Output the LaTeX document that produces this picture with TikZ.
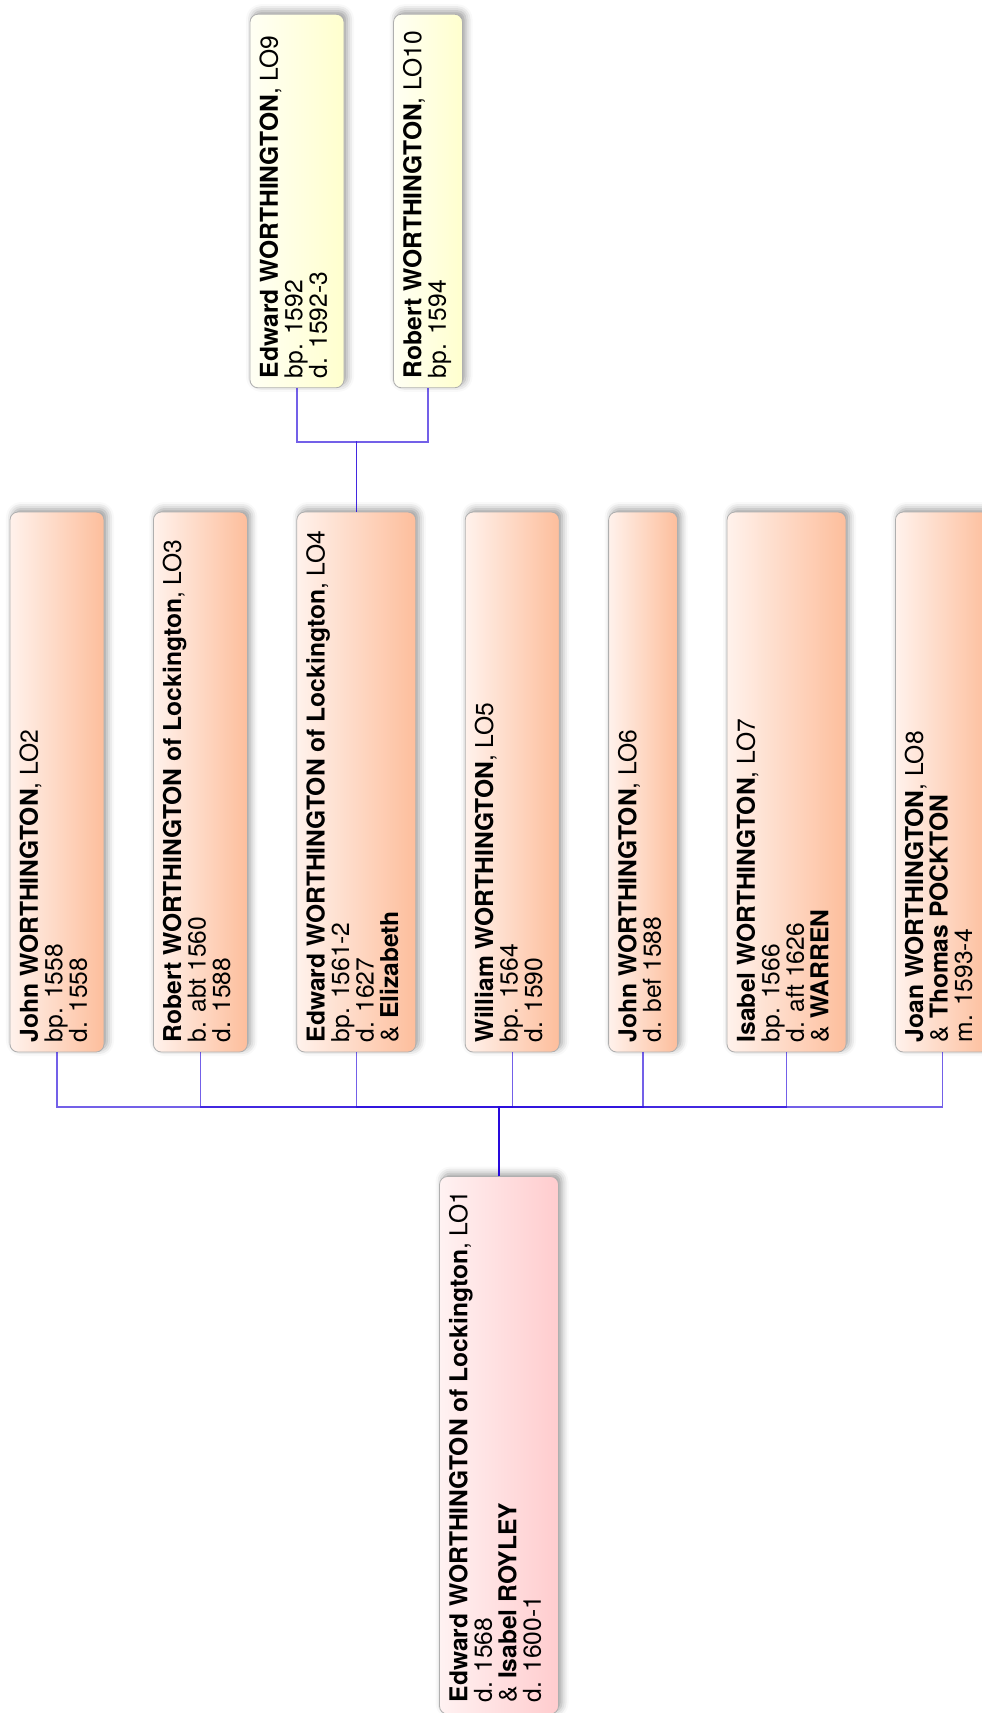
\documentclass[tikz,border=0pt]{standalone}
\usepackage{fontspec}
\setmainfont{TeX Gyre Heros}
\usetikzlibrary{shadows.blur}
\definecolor{salL}{RGB}{255,242,236}
\definecolor{salR}{RGB}{253,190,156}
\definecolor{pinkL}{RGB}{255,242,242}
\definecolor{pinkR}{RGB}{255,204,206}
\definecolor{yelL}{RGB}{255,255,244}
\definecolor{yelR}{RGB}{255,255,206}
\definecolor{linkc}{RGB}{40,10,220}
\definecolor{edgec}{RGB}{175,175,175}
\tikzset{
  person/.style={draw=edgec, line width=0.8bp, rounded corners=8bp,
    minimum height=540bp, inner sep=0pt,
    blur shadow={shadow xshift=3bp, shadow yshift=3bp, shadow blur radius=7bp, shadow opacity=40}},
  salmon/.style={person, left color=salL, right color=salR},
  pinkbox/.style={person, left color=pinkL, right color=pinkR},
  yelbox/.style={person, left color=yelL, right color=yelR},
  wtwo/.style={minimum width=69bp},
  wthree/.style={minimum width=94bp},
  wfour/.style={minimum width=119bp},
  lbl/.style={rotate=90, anchor=north west, inner sep=0pt, align=left,
    font=\fontsize{24.6bp}{24.5bp}\selectfont},
  link/.style={draw=linkc, line width=1.4bp, draw opacity=0.65},
}
\newcommand{\fr}{\rule{0pt}{20bp}}
\begin{document}
\begin{tikzpicture}[x=1bp, y=-1bp]
\useasboundingbox (0,0) rectangle (981,1713);
% boxes
\node[pinkbox, wfour, minimum height=537.5bp] (p1) at (499,1445.25) {};
\node[salmon, wthree] (p2) at (57,782) {};
\node[salmon, wthree] (p3) at (200.4,782) {};
\node[salmon, wfour] (p4) at (356.3,782) {};
\node[salmon, wthree] (p5) at (512.2,782) {};
\node[salmon, wtwo] (p6) at (643.1,782) {};
\node[salmon, wfour] (p7) at (786.5,782) {};
\node[salmon, wthree] (p8) at (942.4,782) {};
\node[yelbox, wthree, minimum height=373.6bp] (p9) at (297,201) {};
\node[yelbox, wtwo, minimum height=373.6bp] (p10) at (428,201) {};
% connectors
\coordinate (b1) at (499,1107);
\coordinate (b2) at (356.3,442);
\foreach \c in {p2,p3,p4,p5,p6,p7,p8}
  \draw[link] (p1.north) -- (b1) -| (\c.south);
\foreach \c in {p9,p10}
  \draw[link] (p4.north) -- (b2) -| (\c.south);
% texts
\node[lbl] (t1) at ([shift={(8,-12)}]p1.south west) {\fr\textbf{Edward WORTHINGTON of Lockington}, LO1\\d. 1568\\\& \textbf{Isabel ROYLEY}\\d. 1600-1};
\node[lbl] (t2) at ([shift={(8,-10)}]p2.south west) {\fr\textbf{John WORTHINGTON}, LO2\\bp. 1558\\d. 1558};
\node[lbl] (t3) at ([shift={(8,-10)}]p3.south west) {\fr\textbf{Robert WORTHINGTON of Lockington}, LO3\\b. abt 1560\\d. 1588};
\node[lbl] (t4) at ([shift={(8,-10)}]p4.south west) {\fr\textbf{Edward WORTHINGTON of Lockington}, LO4\\bp. 1561-2\\d. 1627\\\& \textbf{Elizabeth}};
\node[lbl] (t5) at ([shift={(8,-10)}]p5.south west) {\fr\textbf{William WORTHINGTON}, LO5\\bp. 1564\\d. 1590};
\node[lbl] (t6) at ([shift={(8,-10)}]p6.south west) {\fr\textbf{John WORTHINGTON}, LO6\\d. bef 1588};
\node[lbl] (t7) at ([shift={(8,-10)}]p7.south west) {\fr\textbf{Isabel WORTHINGTON}, LO7\\bp. 1566\\d. aft 1626\\\& \textbf{WARREN}};
\node[lbl] (t8) at ([shift={(8,-10)}]p8.south west) {\fr\textbf{Joan WORTHINGTON}, LO8\\\& \textbf{Thomas POCKTON}\\m. 1593-4};
\node[lbl] (t9) at ([shift={(8,-10)}]p9.south west) {\fr\textbf{Edward WORTHINGTON}, LO9\\bp. 1592\\d. 1592-3};
\node[lbl] (t10) at ([shift={(8,-10)}]p10.south west) {\fr\textbf{Robert WORTHINGTON}, LO10\\bp. 1594};
\end{tikzpicture}
\end{document}
